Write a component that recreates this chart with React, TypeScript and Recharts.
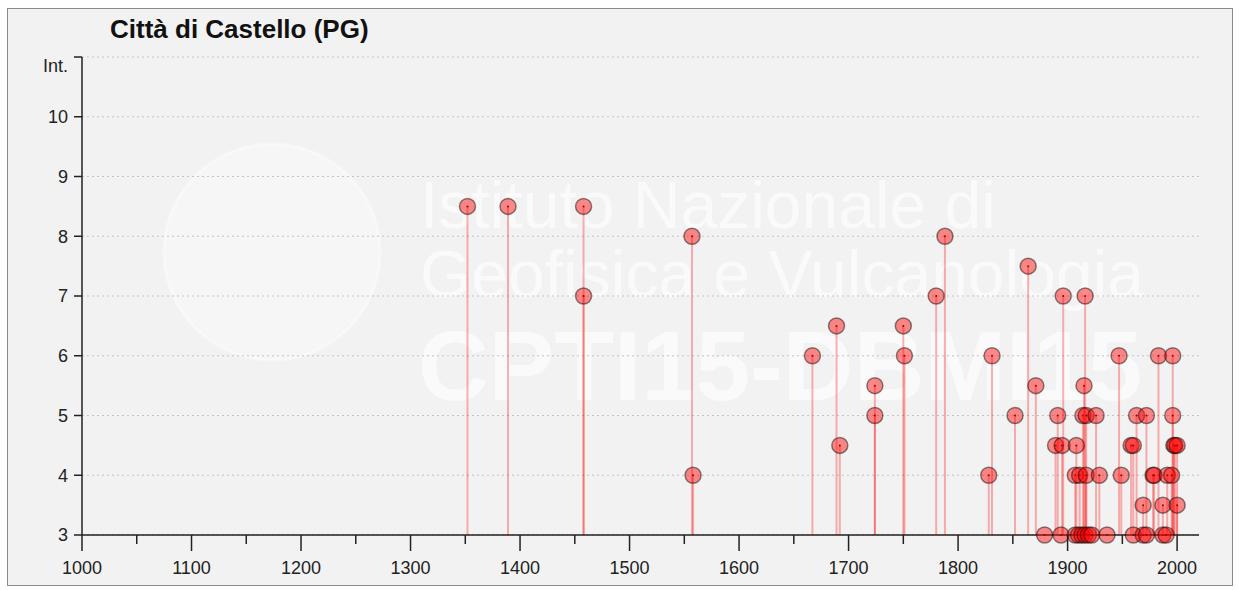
import React from 'react';
import { ScatterChart, Scatter, XAxis, YAxis, CartesianGrid, ReferenceLine } from 'recharts';

// year of each event and the intensity felt at Città di Castello
const years: number[] = [
    1352, 1389, 1458, 1458, 1557, 1558, 1667, 1689, 1692, 1724, 1724, 1750, 1751, 1780, 1788,
    1828, 1831, 1852, 1864, 1871, 1879, 1889, 1891, 1894, 1895, 1896,
    1907, 1907, 1908, 1910, 1911, 1913, 1914, 1915, 1916, 1916, 1917, 1917, 1919, 1922, 1926, 1929, 1936,
    1947, 1949, 1958, 1960, 1960, 1963, 1969, 1969, 1972, 1972, 1978, 1979, 1983, 1987, 1987, 1990, 1991,
    1995, 1996, 1996, 1997, 1998, 2000, 2000,
];
const intensities: number[] = [
    8.5, 8.5, 8.5, 7, 8, 4, 6, 6.5, 4.5, 5.5, 5, 6.5, 6, 7, 8,
    4, 6, 5, 7.5, 5.5, 3, 4.5, 5, 3, 4.5, 7,
    4, 3, 4.5, 3, 4, 3, 5, 5.5, 7, 3, 4, 5, 3, 3, 5, 4, 3,
    6, 4, 4.5, 4.5, 3, 5, 3.5, 3, 3, 5, 4, 4, 6, 3.5, 3, 3, 4,
    4, 5, 6, 4.5, 4.5, 4.5, 3.5,
];

const xTicks: number[] = [1000, 1050, 1100, 1150, 1200, 1250, 1300, 1350, 1400, 1450, 1500,
    1550, 1600, 1650, 1700, 1750, 1800, 1850, 1900, 1950, 2000];
const yTicks: number[] = [3, 4, 5, 6, 7, 8, 9, 10, 11];

const points = years.map((y, i) => ({ year: y, int: intensities[i] }));

const FONT = '"Liberation Sans", Arial, Helvetica, sans-serif';

const XTick = (props: any) => {
    const { x, y, payload } = props;
    const major = payload.value % 100 === 0;
    return (
        <g>
            <line x1={x} y1={y} x2={x} y2={y + (major ? 16 : 9)} stroke="#222" strokeWidth={1.5} />
            {major && (
                <text x={x} y={y + 33} dy="0.35em" textAnchor="middle" fontSize={18} fill="#222" fontFamily={FONT}>
                    {payload.value}
                </text>
            )}
        </g>
    );
};

const YTick = (props: any) => {
    const { x, y, payload } = props;
    const top = payload.value === 11;
    return (
        <text x={x} y={y + (top ? 9 : 0)} dy="0.35em" textAnchor="end" fontSize={18} fill="#222" fontFamily={FONT}>
            {top ? 'Int.' : payload.value}
        </text>
    );
};

const Dot = (props: any) => {
    const { cx, cy } = props;
    return (
        <g>
            <circle cx={cx} cy={cy} r={8} fill="#ff0000" fillOpacity={0.45} stroke="#000" strokeOpacity={0.45} strokeWidth={1.5} />
            <circle cx={cx} cy={cy} r={1} fill="#a00000" />
        </g>
    );
};

const App: React.FC = () => {
    return (
        <div style={{ position: 'absolute', left: 0, top: 0, width: 1239, height: 590, background: '#fff', fontFamily: FONT }}>
            <div style={{ position: 'absolute', left: 7, top: 8, width: 1224, height: 576, border: '1px solid #8a8a8a', background: '#f2f2f2' }} />

            {/* watermark */}
            <svg width={1239} height={590} style={{ position: 'absolute', left: 0, top: 0 }}>
                <circle cx={272} cy={252} r={108} fill="#ffffff" fillOpacity={0.3} stroke="#ffffff" strokeOpacity={0.4} strokeWidth={3} />
                <text x={420} y={228} fontSize={66} fill="#ffffff" fillOpacity={0.6} fontFamily={FONT}>Istituto Nazionale di</text>
                <text x={420} y={297} fontSize={66} fill="#ffffff" fillOpacity={0.6} fontFamily={FONT}>Geofisica e Vulcanologia</text>
                <text x={418} y={400} fontSize={98} fontWeight="bold" fill="#ffffff" fillOpacity={0.6} fontFamily={FONT}>CPTI15-DBMI15</text>
            </svg>

            <div style={{ position: 'absolute', left: 110, top: 14, fontSize: 26, fontWeight: 'bold', color: '#111' }}>
                Città di Castello (PG)
            </div>

            <div style={{ position: 'absolute', left: 0, top: 0 }}>
                <ScatterChart width={1239} height={590} margin={{ top: 57, right: 40, bottom: 10, left: 22 }}>
                    <CartesianGrid vertical={false} stroke="#c4c4c4" strokeDasharray="2 3" />
                    <XAxis
                        type="number"
                        dataKey="year"
                        domain={[1000, 2020]}
                        ticks={xTicks}
                        allowDataOverflow
                        height={45}
                        tickSize={0}
                        tickMargin={0}
                        tickLine={false}
                        axisLine={{ stroke: '#222', strokeWidth: 1.5 }}
                        tick={<XTick />}
                        interval={0}
                    />
                    <YAxis
                        type="number"
                        dataKey="int"
                        domain={[3, 11]}
                        ticks={yTicks}
                        width={60}
                        tickSize={8}
                        tickMargin={6}
                        tickLine={{ stroke: '#222', strokeWidth: 1.5 }}
                        axisLine={{ stroke: '#222', strokeWidth: 1.5 }}
                        tick={<YTick />}
                        interval={0}
                    />
                    {points.map((p, i) => (
                        <ReferenceLine
                            key={i}
                            segment={[{ x: p.year, y: 3 }, { x: p.year, y: p.int }]}
                            stroke="#ff0000"
                            strokeOpacity={0.3}
                            strokeWidth={2}
                        />
                    ))}
                    <Scatter data={points} shape={<Dot />} isAnimationActive={false} />
                </ScatterChart>
            </div>
        </div>
    );
};

export default App;
